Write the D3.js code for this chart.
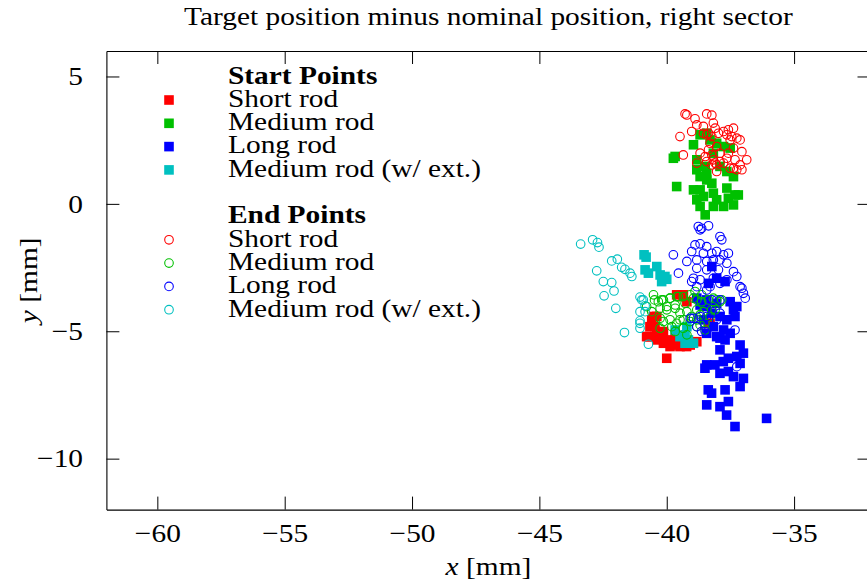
<!DOCTYPE html>
<html><head><meta charset="utf-8">
<script src="https://cdn.jsdelivr.net/npm/d3@7"></script>
<style>html,body{margin:0;padding:0;background:#fff;}svg{display:block;}</style>
</head><body>
<svg id="chart" width="867" height="583"></svg>
<script>
// ---------- data ----------
const titleText = "Target position minus nominal position, right sector";
const xTicks = [-60, -55, -50, -45, -40, -35];
const yTicks = [-10, -5, 0, 5];
const seriesNames = ["Short rod", "Medium rod", "Long rod", "Medium rod (w/ ext.)"];
const seriesColors = ["#ff0000", "#00c000", "#0000ff", "#00c0c0"];

const startShort = [
  [-40.59,-4.55],[-40.46,-4.82],[-40.72,-5.21],[-40.26,-5.27],[-40.00,-5.34],[-39.67,-5.27],
  [-39.35,-3.57],[-39.21,-3.84],[-38.36,-4.69],[-38.30,-4.69],[-40.13,-5.01],[-40.39,-4.42],
  [-39.61,-3.57],[-39.35,-3.64],[-40.52,-4.42],[-40.66,-4.82],[-40.79,-5.21],[-40.39,-5.34],
  [-40.13,-5.47],[-39.87,-5.60],[-39.48,-5.60],[-39.08,-5.54],[-38.82,-5.41],[-40.00,-6.06],
  [-40.66,-5.21],[-40.07,-5.47],[-39.61,-5.54],[-39.22,-5.60],[-38.96,-5.47],[-40.39,-5.08]
];
const startMedium = [
  [-39.67,1.86],[-39.74,1.79],[-39.61,0.68],[-38.95,0.55],[-38.69,1.07],[-38.49,1.47],
  [-38.43,0.94],[-38.82,0.16],[-38.49,-0.43],[-38.56,0.29],[-38.17,0.42],[-38.04,0.16],
  [-37.64,0.62],[-37.58,0.22],[-37.32,0.35],[-37.19,0.35],[-37.38,-0.04],[-37.77,-0.10],
  [-38.17,-0.10],[-38.69,-0.10],[-38.95,2.32],[-38.69,2.71],[-38.43,2.77],[-38.30,2.51],
  [-38.04,2.38],[-37.77,2.25],[-37.51,2.19],[-38.17,1.99],[-38.82,1.73],[-37.91,1.47],
  [-38.43,1.20],[-38.82,1.34],[-37.64,1.27],[-37.38,1.07],[-38.69,0.55],[-38.23,0.81]
];
const startLong = [
  [-38.23,-2.46],[-38.04,-2.92],[-37.71,-3.05],[-38.36,-3.12],[-38.43,-3.77],[-38.04,-3.90],
  [-37.51,-3.84],[-37.38,-4.16],[-37.32,-4.42],[-37.25,-4.03],[-37.91,-4.42],[-38.23,-4.29],
  [-38.56,-4.55],[-38.17,-4.82],[-37.77,-4.95],[-37.51,-5.08],[-37.91,-5.27],[-37.12,-5.54],
  [-38.43,-4.03],[-38.82,-3.70],[-38.69,-3.97],[-37.64,-4.55],
  [-38.43,-5.08],[-38.04,-5.21],[-37.71,-5.34],[-37.91,-5.73],[-37.78,-6.19],[-38.43,-6.32],
  [-38.50,-6.45],[-38.11,-6.32],[-37.91,-6.65],[-37.58,-6.58],[-37.25,-5.99],[-36.99,-5.86],
  [-37.12,-6.26],[-37.58,-6.06],[-37.38,-6.78],[-36.99,-6.85],[-37.12,-7.17],[-37.71,-7.30],
  [-38.37,-7.30],[-38.24,-7.43],[-38.43,-7.89],[-37.91,-7.96],[-37.65,-8.29],[-37.58,-7.76],
  [-37.32,-8.74],[-36.08,-8.42]
];
const startMediumExt = [
  [-40.89,-2.00],[-40.81,-2.09],[-40.85,-2.59],[-40.39,-2.46],[-40.26,-2.79],[-40.07,-2.85],
  [-40.20,-3.05],[-40.00,-2.96],[-40.72,-2.72],[-39.28,-5.14],[-38.95,-5.47],[-39.67,-4.95],
  [-39.21,-4.82],[-39.48,-5.21],[-39.15,-5.34],[-39.28,-5.47]
];

const endShort = [
  [-39.28,3.53],[-39.21,3.49],[-38.89,3.34],[-38.43,3.53],[-38.23,3.48],[-39.48,2.64],
  [-39.02,2.84],[-38.82,3.10],[-38.56,3.04],[-38.17,3.17],[-38.10,2.97],[-37.97,2.77],
  [-37.77,2.84],[-37.58,2.91],[-37.38,2.97],[-37.45,2.64],[-37.25,2.58],[-37.12,2.51],
  [-37.38,2.19],[-37.05,2.05],[-37.58,1.99],[-37.91,1.99],[-38.04,2.25],[-38.30,2.38],
  [-38.36,2.77],[-38.56,2.77],[-38.69,1.99],[-38.82,1.60],[-38.43,1.66],[-38.17,1.73],
  [-38.04,1.53],[-37.77,1.60],[-37.51,1.40],[-37.25,1.34],[-37.05,1.34],[-36.86,1.73],
  [-37.32,1.73],[-39.35,1.92],[-38.04,1.27],[-38.23,1.92],[-38.43,2.71],[-38.23,2.64],
  [-38.36,2.12],[-38.10,1.60],[-37.91,1.66],[-37.64,1.79],[-38.23,1.53],[-38.49,1.86],
  [-37.38,1.40],[-37.12,1.53],[-37.51,2.51],[-37.64,2.71]
];
const endMedium = [
  [-40.48,-3.77],[-40.33,-3.84],[-40.13,-3.77],[-39.87,-3.70],[-39.61,-3.64],[-39.35,-3.64],
  [-39.08,-3.57],[-38.89,-3.44],[-38.82,-3.77],[-38.63,-3.84],[-38.36,-3.77],[-38.04,-3.77],
  [-37.91,-3.84],[-38.10,-4.16],[-40.26,-4.10],[-40.00,-4.16],[-39.67,-4.10],[-39.48,-4.29],
  [-39.21,-4.23],[-40.26,-4.49],[-39.87,-4.55],[-39.61,-4.69],[-39.35,-4.55],[-39.02,-4.49],
  [-38.82,-4.55],[-38.69,-4.75],[-38.49,-4.95],[-40.26,-4.88],[-39.67,-5.01],[-39.21,-5.14],
  [-40.79,-4.03],[-40.59,-4.23],[-38.56,-4.23],[-38.30,-4.42],
  [-40.52,-3.57],[-40.20,-3.77],[-39.87,-3.70],[-39.54,-3.64],[-40.00,-4.03],[-39.67,-3.97],
  [-39.28,-3.90],[-38.95,-3.70],[-38.63,-3.57],[-38.17,-3.70],[-37.84,-3.77],[-38.82,-4.16],
  [-39.02,-4.42],[-38.69,-4.35],[-39.48,-4.55],[-40.13,-4.62],[-39.80,-4.82],[-39.35,-4.88],
  [-39.08,-4.62],[-38.82,-4.82],[-38.50,-4.69],[-38.24,-4.16]
];
const endLong = [
  [-38.76,-0.89],[-38.63,-0.96],[-38.36,-0.86],[-38.69,-1.02],[-38.89,-1.61],[-39.02,-1.87],
  [-38.69,-1.57],[-38.43,-1.68],[-37.91,-1.28],[-37.84,-1.41],[-38.56,-1.94],[-38.23,-1.94],
  [-38.04,-1.87],[-37.77,-2.00],[-37.58,-1.94],[-39.74,-2.00],[-39.21,-2.26],[-38.82,-2.20],
  [-38.43,-2.26],[-38.17,-2.20],[-37.91,-2.20],[-37.64,-2.33],[-37.38,-2.66],[-37.25,-2.85],
  [-38.82,-2.53],[-38.43,-2.59],[-37.97,-2.59],[-39.54,-2.72],[-38.95,-2.92],[-38.69,-2.98],
  [-38.17,-2.92],[-37.64,-2.98],[-37.05,-3.31],[-36.92,-3.70],[-38.43,-3.38],[-37.91,-3.77],
  [-38.04,-4.55],[-38.69,-4.42],[-38.95,-4.49],[-38.82,-4.82],[-38.49,-5.01],[-37.32,-4.95],
  [-38.30,-3.25],[-38.23,-3.77],[-39.02,-3.05],[-38.82,-3.25],[-37.91,-3.12],[-37.12,-3.25],
  [-36.99,-3.51],[-37.25,-6.39],[-39.08,-4.49],[-38.43,-4.42],[-37.91,-4.29],[-38.63,-5.01]
];
const endMediumExt = [
  [-43.38,-1.58],[-42.91,-1.41],[-42.72,-1.52],[-42.66,-1.70],[-42.16,-2.24],[-41.94,-2.17],
  [-41.77,-2.49],[-41.64,-2.57],[-41.44,-2.72],[-41.37,-2.85],[-42.75,-2.63],[-42.49,-3.05],
  [-42.16,-3.09],[-42.07,-3.42],[-42.46,-3.61],[-42.00,-4.10],[-41.05,-3.66],[-40.98,-3.77],
  [-41.05,-4.23],[-41.05,-4.59],[-41.05,-4.88],[-41.66,-5.05],[-40.72,-5.51],[-40.85,-4.00],
  [-40.92,-3.77],[-40.85,-4.23],[-41.05,-4.69]
];

const startSeries = [startShort, startMedium, startLong, startMediumExt];
const endSeries = [endShort, endMedium, endLong, endMediumExt];

// ---------- layout ----------
const FONT = "'Liberation Serif', 'Times New Roman', serif";
const FS = 26;
const STRETCH = 1.13;
const L = 106.4, R = 870.5, T = 51, B = 509.6;
const SQ = 9.6, CR = 4.3;

const svg = d3.select("#chart");
const x = d3.scaleLinear().domain([-62, -32]).range([L, R]);
const y = d3.scaleLinear().domain([-12, 6]).range([B, T]);

function stretch(sel) {
  sel.each(function () {
    const w = this.getComputedTextLength();
    d3.select(this).attr("textLength", w * STRETCH).attr("lengthAdjust", "spacingAndGlyphs");
  });
}
const fmt = d => (d < 0 ? "\u2212" + Math.abs(d) : "" + d);

// axes
function styleAxis(g) {
  g.selectAll("path.domain").attr("stroke", "#000").attr("stroke-width", 1.1);
  g.selectAll(".tick line").attr("stroke", "#000").attr("stroke-width", 1);
  g.selectAll("text").attr("font-family", FONT).attr("font-size", FS).attr("fill", "#000");
}
const gB = svg.append("g").attr("transform", `translate(0,${B})`)
  .call(d3.axisBottom(x).tickValues(xTicks).tickSizeInner(-13).tickSizeOuter(0).tickPadding(14).tickFormat(fmt));
styleAxis(gB);
const gT = svg.append("g").attr("transform", `translate(0,${T})`)
  .call(d3.axisTop(x).tickValues(xTicks).tickSizeInner(-13).tickSizeOuter(0).tickFormat(""));
styleAxis(gT);
const gLft = svg.append("g").attr("transform", `translate(${L},0)`)
  .call(d3.axisLeft(y).tickValues(yTicks).tickSizeInner(-13).tickSizeOuter(0).tickPadding(23.4).tickFormat(fmt));
styleAxis(gLft);
const gRt = svg.append("g").attr("transform", `translate(${R},0)`)
  .call(d3.axisRight(y).tickValues(yTicks).tickSizeInner(-13).tickSizeOuter(0).tickFormat(""));
styleAxis(gRt);
stretch(gB.selectAll("text"));
stretch(gLft.selectAll("text"));

// title & axis labels
const title = svg.append("text").attr("x", (L + R) / 2).attr("y", 25)
  .attr("text-anchor", "middle").attr("font-family", FONT).attr("font-size", FS).text(titleText);
stretch(title);

const xl = svg.append("text").attr("x", (L + R) / 2).attr("y", 575).attr("text-anchor", "middle")
  .attr("font-family", FONT).attr("font-size", FS);
xl.append("tspan").attr("font-style", "italic").text("x");
xl.append("tspan").text(" [mm]");
stretch(xl);

const yl = svg.append("text").attr("transform", `translate(37,${(T + B) / 2}) rotate(-90)`)
  .attr("text-anchor", "middle").attr("font-family", FONT).attr("font-size", FS);
yl.append("tspan").attr("font-style", "italic").text("y");
yl.append("tspan").text(" [mm]");
stretch(yl);

// data marks
const plot = svg.append("g");
startSeries.forEach((data, i) => {
  plot.append("g").selectAll("rect").data(data).join("rect")
    .attr("x", d => x(d[0]) - SQ / 2).attr("y", d => y(d[1]) - SQ / 2)
    .attr("width", SQ).attr("height", SQ).attr("fill", seriesColors[i]);
});
endSeries.forEach((data, i) => {
  plot.append("g").selectAll("circle").data(data).join("circle")
    .attr("cx", d => x(d[0])).attr("cy", d => y(d[1])).attr("r", CR)
    .attr("fill", "none").attr("stroke", seriesColors[i]).attr("stroke-width", 1.1);
});

// legend
const rowH = 23.3, row0 = 76.7, symX = 169, txtX = 228;
const leg = svg.append("g");
function legText(k, txt, bold) {
  const t = leg.append("text").attr("x", txtX).attr("y", row0 + k * rowH + 6.8)
    .attr("font-family", FONT).attr("font-size", FS).attr("font-weight", bold ? "bold" : "normal").text(txt);
  stretch(t);
}
legText(0, "Start Points", true);
seriesNames.forEach((n, i) => {
  const cy = row0 + (i + 1) * rowH;
  leg.append("rect").attr("x", symX - SQ / 2).attr("y", cy - SQ / 2).attr("width", SQ).attr("height", SQ)
    .attr("fill", seriesColors[i]);
  legText(i + 1, n, false);
});
legText(6, "End Points", true);
seriesNames.forEach((n, i) => {
  const cy = row0 + (i + 7) * rowH;
  leg.append("circle").attr("cx", symX).attr("cy", cy).attr("r", CR)
    .attr("fill", "none").attr("stroke", seriesColors[i]).attr("stroke-width", 1.1);
  legText(i + 7, n, false);
});
</script>
</body></html>
